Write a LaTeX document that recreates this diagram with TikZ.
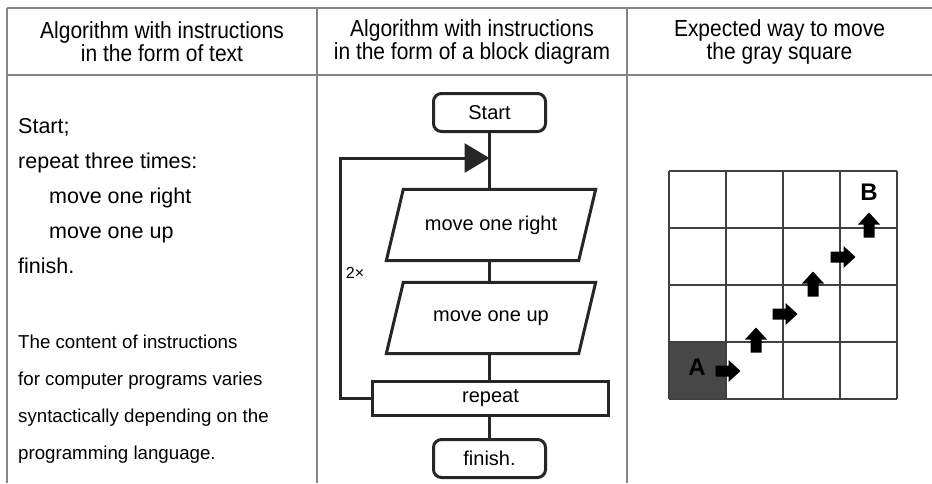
\documentclass[tikz,border=0pt]{standalone}
\usepackage{fontspec}
\setmainfont{Liberation Sans}
\newfontfamily\hdrfont[FakeStretch=0.9]{Liberation Sans}
\usetikzlibrary{arrows.meta}
\begin{document}
\begin{tikzpicture}[x=1pt,y=-1pt,
  tline/.style={draw=black!48, line width=1.3pt},
  hdr/.style={align=center, font=\hdrfont\fontsize{23.3}{23}\selectfont, inner sep=0pt},
  body/.style={anchor=base west, font=\fontsize{21.5}{24}\selectfont, inner sep=0pt},
  small/.style={anchor=base west, font=\fontsize{18.7}{21}\selectfont, inner sep=0pt},
  fl/.style={draw=black!85, line width=3pt},
  flfont/.style={font=\fontsize{20}{22}\selectfont},
  term/.style={fl, flfont, rounded corners=8pt, minimum width=112pt, minimum height=38pt, inner sep=0pt},
  pio/.style={flfont, minimum width=175pt, minimum height=71pt, inner sep=0pt},
  rep/.style={fl, flfont, minimum width=236pt, minimum height=34pt, inner sep=0pt},
  gl/.style={draw=black!75, line width=2pt},
  lbl/.style={font=\bfseries\fontsize{24}{24}\selectfont, inner sep=0pt},
  blk/.pic={\fill[black] (-12.5,-5.5) -- (0.5,-5.5) -- (0.5,-11) -- (12.5,0) -- (0.5,11) -- (0.5,5.5) -- (-12.5,5.5) -- cycle;}
]
\useasboundingbox (0,0) rectangle (932,483);
% table
\draw[tline] (7,8) -- (932,8);
\draw[tline] (7,75) -- (932,75);
\draw[tline] (7,8) -- (7,483);
\draw[tline] (317,8) -- (317,483);
\draw[tline] (627,8) -- (627,483);
% headers
\node[hdr] (h1) at (162,42) {Algorithm with instructions\\in the form of text};
\node[hdr] (h2) at (472,42) {Algorithm with instructions\\in the form of a block diagram};
\node[hdr] (h3) at (779.5,42) {Expected way to move\\the gray square};
% left column
\node[body] (t1) at (18,133) {Start;};
\node[body] (t2) at (18,168) {repeat three times:};
\node[body] (t3) at (49,203) {move one right};
\node[body] (t4) at (49,238) {move one up};
\node[body] (t5) at (18,273) {finish.};
\node[small] (s1) at (18,348) {The content of instructions};
\node[small] (s2) at (18,385) {for computer programs varies};
\node[small] (s3) at (18,422) {syntactically depending on the};
\node[small] (s4) at (18,459) {programming language.};
% flowchart
\node[term] (start) at (489.5,112.5) {Start};
\node[pio] (p1) at (491,225) {move one right};
\node[pio] (p2) at (491,318) {move one up};
\node[rep] (rep) at (490.5,398.5) {repeat};
\node[term] (fin) at (489.5,458.5) {finish.};
\draw[fl] (p1.north west) -- ([xshift=17pt]p1.north east) -- (p1.south east) -- ([xshift=-17pt]p1.south west) -- cycle;
\draw[fl] (p2.north west) -- ([xshift=17pt]p2.north east) -- (p2.south east) -- ([xshift=-17pt]p2.south west) -- cycle;
\draw[fl] (start.south) -- (start.south |- p1.north);
\draw[fl] (start.south |- p1.south) -- (start.south |- p2.north);
\draw[fl] (start.south |- p2.south) -- (start.south |- rep.north);
\draw[fl] (start.south |- rep.south) -- (fin.north);
\coordinate (loopin) at (489.5,158);
\coordinate (lc) at (340,158);
\draw[fl, -{Triangle[length=25pt,width=29pt]}] (rep.west) -| (lc) -- (loopin);
\node[flfont, font=\fontsize{16}{16}\selectfont, inner sep=0pt] (cnt) at (355,273) {2×};
% grid
\fill[black!72] (669,342) rectangle (726,399);
\foreach \i in {0,...,4} {
  \draw[gl] (669+57*\i,171) -- (669+57*\i,399);
  \draw[gl] (669,171+57*\i) -- (897,171+57*\i);
}
\node[lbl] (A) at (697,367) {A};
\node[lbl] (B) at (869,192) {B};
\pic at (728,371) {blk};
\pic[rotate=90] at (756,340) {blk};
\pic at (785,314) {blk};
\pic[rotate=90] at (813,284) {blk};
\pic at (843,257) {blk};
\pic[rotate=90] at (869,225) {blk};
\end{tikzpicture}
\end{document}
